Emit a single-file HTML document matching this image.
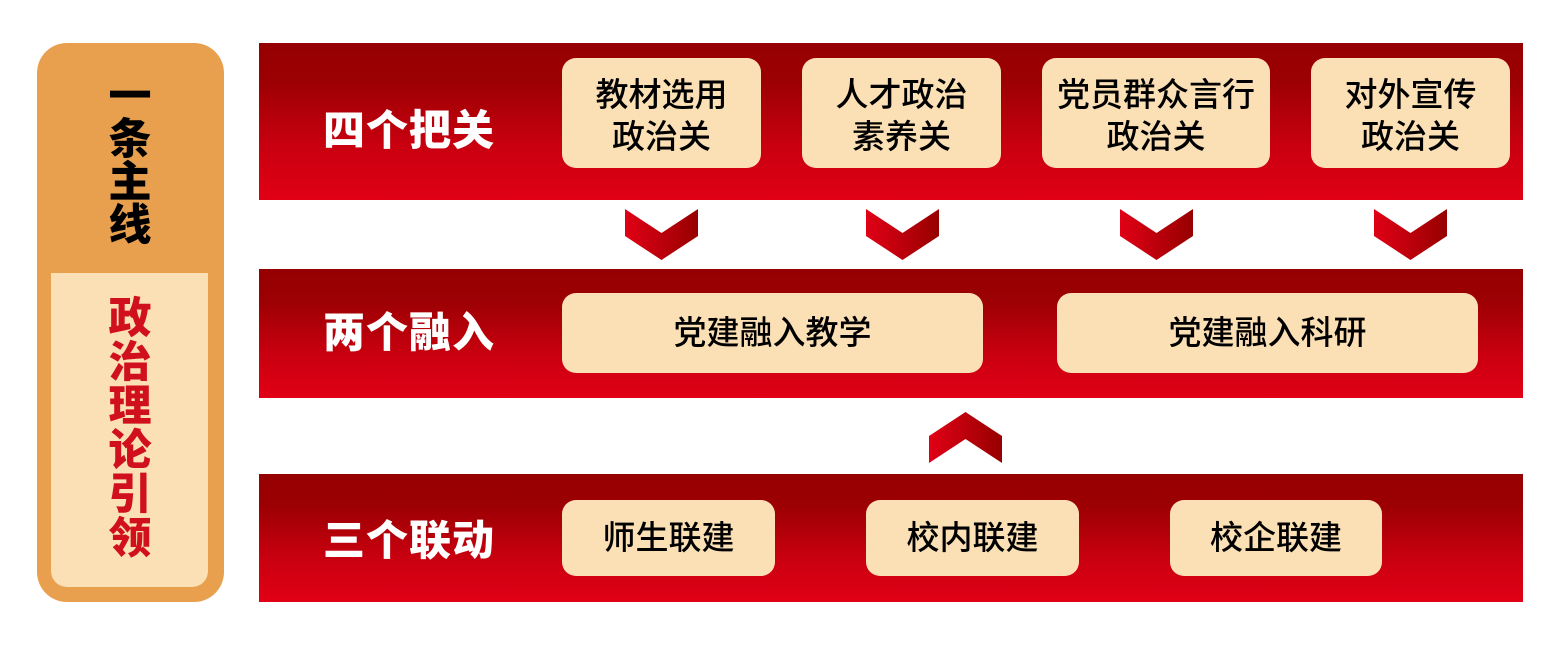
<!DOCTYPE html>
<html><head><meta charset="utf-8"><style>
body{margin:0;width:1559px;height:664px;background:#fff;position:relative;overflow:hidden;font-family:"Liberation Sans","Noto Sans CJK SC",sans-serif}
.a{position:absolute}
.band{position:absolute;left:259px;width:1264px;background:linear-gradient(#960000 0%,#9c0003 25%,#c8000f 65%,#e10016 100%)}
.lab{position:absolute;left:323px;color:#fff;font-weight:900;font-size:42px;line-height:50px;letter-spacing:1px}
.box{position:absolute;background:#fbdfb5;border-radius:14px;display:flex;align-items:center;justify-content:center;text-align:center;color:#000;font-size:33px;line-height:42px;font-weight:500;box-sizing:border-box}
.vt{position:absolute;font-weight:900;font-size:43px;text-align:center;width:60px}
</style></head><body>
<div class="a" style="left:37px;top:43px;width:187px;height:559px;background:#e8a04f;border-radius:30px"></div>
<div class="a" style="left:51px;top:273px;width:157px;height:314px;background:#fbdfb5;border-radius:0 0 16px 16px"></div>
<div class="vt" style="left:100px;top:76px;line-height:43px;color:#000">一<br>条<br>主<br>线</div>
<div class="vt" style="left:100px;top:297px;line-height:44px;color:#d0101c">政<br>治<br>理<br>论<br>引<br>领</div>

<div class="band" style="top:43px;height:157px"></div>
<div class="band" style="top:269px;height:129px"></div>
<div class="band" style="top:474px;height:128px"></div>
<div class="lab" style="top:106px">四个把关</div>
<div class="lab" style="top:308px">两个融入</div>
<div class="lab" style="top:516px">三个联动</div>

<div class="box" style="left:562px;top:58px;width:199px;height:110px;padding-top:6px">教材选用<br>政治关</div>
<div class="box" style="left:802px;top:58px;width:199px;height:110px;padding-top:6px">人才政治<br>素养关</div>
<div class="box" style="left:1042px;top:58px;width:228px;height:110px;padding-top:6px">党员群众言行<br>政治关</div>
<div class="box" style="left:1311px;top:58px;width:199px;height:110px;padding-top:6px">对外宣传<br>政治关</div>

<div class="box" style="left:562px;top:293px;width:421px;height:80px">党建融入教学</div>
<div class="box" style="left:1057px;top:293px;width:421px;height:80px">党建融入科研</div>

<div class="box" style="left:562px;top:500px;width:213px;height:76px">师生联建</div>
<div class="box" style="left:866px;top:500px;width:213px;height:76px">校内联建</div>
<div class="box" style="left:1170px;top:500px;width:212px;height:76px">校企联建</div>

<svg class="a" style="left:0;top:0" width="1559" height="664">
<defs><linearGradient id="g" x1="0" x2="1" y1="0" y2="0"><stop offset="0" stop-color="#e10016"/><stop offset="1" stop-color="#960000"/></linearGradient></defs>
<g fill="url(#g)">
<polygon points="0,0 36.5,24 73,0 73,27 36.5,51 0,27" transform="translate(625,209)"/>
<polygon points="0,0 36.5,24 73,0 73,27 36.5,51 0,27" transform="translate(866,209)"/>
<polygon points="0,0 36.5,24 73,0 73,27 36.5,51 0,27" transform="translate(1120,209)"/>
<polygon points="0,0 36.5,24 73,0 73,27 36.5,51 0,27" transform="translate(1374,209)"/>
<polygon points="0,51 36.5,27 73,51 73,24 36.5,0 0,24" transform="translate(929,412)"/>
</g></svg>
</body></html>
